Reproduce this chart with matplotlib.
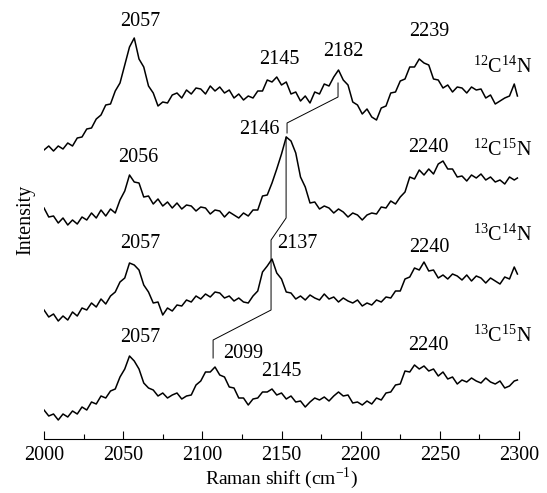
import numpy as np
import matplotlib
matplotlib.use('Agg')
import matplotlib.pyplot as plt
from matplotlib.ticker import MultipleLocator

plt.rcParams['font.family'] = ['Liberation Serif', 'DejaVu Serif']
plt.rcParams['mathtext.fontset'] = 'custom'
plt.rcParams['mathtext.rm'] = 'Liberation Serif'

# ---- spectra (Raman shift in cm-1, intensity in arb. units) ----
wavenumber = list(range(2000, 2298, 3)) + [2299]

int_c12n14 = [289, 293, 288, 293, 290, 296, 293, 301, 302, 310,
              311, 320, 324, 334, 335, 348, 356, 374, 392, 401,
              380, 372, 353, 346, 333, 337, 336, 344, 346, 341,
              349, 345, 351, 350, 345, 353, 348, 352, 346, 349,
              341, 345, 339, 343, 341, 348, 348, 359, 357, 362,
              354, 357, 345, 347, 338, 343, 336, 347, 345, 355,
              353, 362, 369, 359, 354, 337, 334, 325, 330, 322,
              319, 331, 333, 346, 347, 358, 360, 372, 372, 380,
              376, 374, 360, 359, 351, 354, 347, 352, 351, 346,
              352, 349, 350, 341, 344, 335, 338, 341, 343, 355,
              343]

int_c12n15 = [231, 222, 223, 216, 221, 214, 219, 215, 222, 219,
              226, 221, 229, 223, 230, 226, 239, 248, 264, 257,
              256, 242, 243, 235, 240, 233, 237, 231, 236, 230,
              234, 233, 228, 232, 231, 225, 229, 228, 222, 227,
              224, 221, 226, 223, 229, 229, 243, 244, 256, 270,
              285, 302, 298, 286, 262, 252, 236, 237, 230, 233,
              231, 226, 230, 227, 222, 226, 224, 219, 224, 226,
              225, 232, 231, 238, 235, 242, 247, 262, 260, 269,
              264, 270, 265, 275, 278, 270, 270, 262, 263, 258,
              264, 261, 265, 259, 262, 257, 259, 255, 262, 259,
              261]

int_c13n14 = [129, 122, 125, 118, 123, 119, 127, 123, 131, 129,
              136, 132, 140, 135, 143, 147, 157, 161, 176, 174,
              169, 154, 147, 136, 137, 124, 131, 128, 134, 133,
              139, 137, 143, 140, 145, 142, 147, 146, 141, 143,
              138, 141, 137, 136, 143, 148, 167, 173, 180, 166,
              160, 147, 146, 140, 143, 139, 144, 141, 139, 145,
              140, 142, 137, 141, 138, 136, 139, 133, 136, 134,
              139, 137, 142, 141, 148, 148, 160, 162, 171, 169,
              177, 168, 169, 161, 164, 160, 165, 163, 159, 164,
              158, 163, 161, 156, 161, 158, 155, 162, 160, 172,
              165]

int_c13n15 = [29, 23, 25, 19, 25, 22, 28, 25, 32, 29,
              37, 35, 43, 41, 48, 50, 62, 70, 83, 78,
              70, 56, 51, 49, 43, 46, 41, 44, 46, 40,
              43, 44, 54, 58, 67, 67, 72, 64, 62, 52,
              51, 41, 41, 34, 40, 41, 47, 47, 50, 44,
              46, 40, 43, 37, 38, 32, 37, 41, 39, 42,
              38, 43, 47, 43, 44, 36, 37, 34, 38, 35,
              41, 39, 46, 47, 54, 55, 68, 67, 74, 70,
              73, 68, 70, 63, 67, 60, 62, 55, 59, 57,
              61, 58, 56, 61, 57, 55, 58, 51, 53, 58,
              59]

# peak labels: (text, x, y)
peak_labels = [('2057', 2060.6, 417), ('2145', 2148.4, 380), ('2182', 2188.9, 387), ('2239', 2243.2, 407),
               ('2146', 2135.8, 310), ('2056', 2059.4, 282), ('2240', 2242.6, 291),
               ('2057', 2060.6, 196), ('2137', 2159.8, 196), ('2240', 2243.2, 191),
               ('2057', 2060.6, 101), ('2099', 2125.7, 85), ('2145', 2149.7, 68), ('2240', 2242.6, 94)]
isotope_labels = [(r'$^{12}$C$^{14}$N', 372), (r'$^{12}$C$^{15}$N', 289),
                  (r'$^{13}$C$^{14}$N', 204), (r'$^{13}$C$^{15}$N', 103)]
# tie lines connecting the shifted CN peak
tie_a_x = [2185.7, 2185.7, 2153.5, 2153.5]
tie_a_y = [356, 342, 316, 306]
tie_b_x = [2152.9, 2152.9, 2143.4, 2143.4, 2106.8, 2106.8]
tie_b_y = [302, 221, 199, 129, 99, 81]

fig = plt.figure(figsize=(5.47, 4.93), dpi=100)
ax = fig.add_axes([44/547, 54/493, 475/547, 439/493])

for inten in [int_c12n14, int_c12n15, int_c13n14, int_c13n15]:
    ax.plot(wavenumber, inten, color='black', lw=1.1)

ax.plot(tie_a_x, tie_a_y, color='black', lw=0.7)
ax.plot(tie_b_x, tie_b_y, color='black', lw=0.7)

for txt, x, y in peak_labels:
    ax.text(x, y, txt, ha='center', va='center', fontsize=14.5)
for txt, y in isotope_labels:
    ax.text(2289.5, y, txt, ha='center', va='center', fontsize=14.5)

ax.set_xlim(2000, 2300)
ax.set_ylim(0, 439)
for s in ['left', 'right', 'top']:
    ax.spines[s].set_visible(False)
ax.spines['bottom'].set_linewidth(0.8)
ax.set_yticks([])
ax.xaxis.set_major_locator(MultipleLocator(50))
ax.xaxis.set_minor_locator(MultipleLocator(25))
ax.tick_params(axis='x', which='major', direction='in', length=6, width=0.8, labelsize=14.5, pad=5)
ax.tick_params(axis='x', which='minor', direction='in', length=3.5, width=0.8)
ax.set_xlabel('Raman shift (cm$^{-1}$)', fontsize=14, labelpad=0)
ax.set_ylabel('Intensity', fontsize=14.5, labelpad=6)
ax.patch.set_alpha(0)

fig.savefig('out.png', dpi=100)
